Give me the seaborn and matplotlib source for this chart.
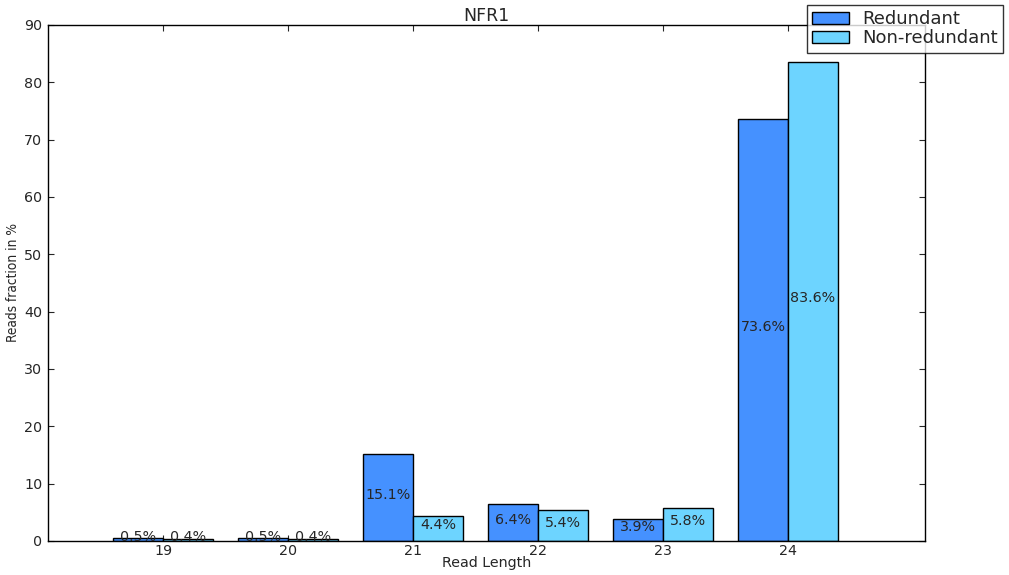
import matplotlib
matplotlib.use("Agg")
import matplotlib.pyplot as plt
import seaborn as sns
import pandas as pd

read_lengths = ["19", "20", "21", "22", "23", "24"]
redundant = [0.5, 0.5, 15.1, 6.4, 3.9, 73.6]
non_redundant = [0.4, 0.4, 4.4, 5.4, 5.8, 83.6]
series_names = ["Redundant", "Non-redundant"]
colors = ["#4591FF", "#6DD4FF"]

sns.set_style("ticks")
plt.rcParams["font.family"] = ["DejaVu Sans"]

df = pd.DataFrame({
    "length": read_lengths * 2,
    "value": redundant + non_redundant,
    "series": [series_names[0]] * len(read_lengths) + [series_names[1]] * len(read_lengths),
})

fig = plt.figure(figsize=(10.09, 5.75), dpi=100)
ax = fig.add_axes([48 / 1009, 34 / 575, (925 - 48) / 1009, (541 - 25) / 575])

sns.barplot(data=df, x="length", y="value", hue="series", order=read_lengths,
            hue_order=series_names, palette=colors, width=0.8, dodge=True,
            edgecolor="black", linewidth=1.0, saturation=1, errorbar=None,
            ax=ax, legend=False)

# value labels at half height of each bar
for container, vals in zip(ax.containers, [redundant, non_redundant]):
    for patch, v in zip(container.patches, vals):
        ax.annotate(f"{v:.1f}%", (patch.get_x() + patch.get_width() / 2, v / 2),
                    xytext=(0, 3), textcoords="offset pixels",
                    ha="center", va="center", fontsize=10.3)

ax.set_xlim(-0.92, 6.096)
ax.set_ylim(0, 90)
ax.set_yticks(range(0, 91, 10))
ax.tick_params(direction="in", top=True, right=True, labelsize=10.3, length=4, pad=4)
ax.tick_params(axis="x", pad=2.5)
for s in ax.spines.values():
    s.set_visible(True)
    s.set_color("black")
    s.set_linewidth(1.0)

ax.set_title("NFR1", fontsize=12.5, pad=3)
ax.set_xlabel("Read Length", fontsize=10.3, labelpad=-1.5)
ax.set_ylabel("Reads fraction in %", fontsize=9.8, fontstretch="condensed",
              family="DejaVu Sans", labelpad=3)

handles = [plt.Rectangle((0, 0), 1, 1, facecolor=c, edgecolor="black", linewidth=1.0)
           for c in colors]
leg = fig.legend(handles, series_names, loc="upper right",
                 bbox_to_anchor=(1003 / 1009, 1 - 5 / 575), fontsize=13,
                 frameon=True, fancybox=False, shadow=False, borderaxespad=0,
                 handlelength=2.05, handleheight=0.7, labelspacing=0.05,
                 borderpad=0.3, handletextpad=0.7)
leg.get_frame().set_edgecolor("black")
leg.get_frame().set_linewidth(1.0)

fig.savefig("out.png", dpi=100)
